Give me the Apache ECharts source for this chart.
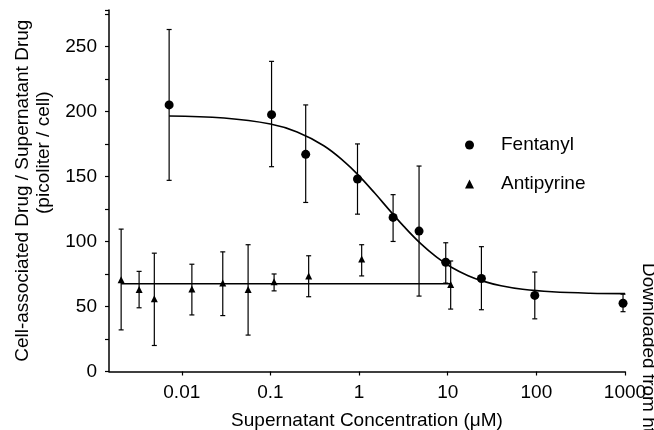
<!DOCTYPE html>
<html><head><meta charset="utf-8">
<script src="https://cdn.jsdelivr.net/npm/echarts@6/dist/echarts.min.js"></script>
<style>html,body{margin:0;padding:0;background:#fff}#c{width:654px;height:430px}</style>
</head><body><div id="c"></div>
<script>
const fentanylX = [0.0072, 0.103, 0.25, 0.96, 2.42, 4.75, 9.5, 24, 96, 950];
const fentanylY = [205, 197.5, 167, 148, 118.5, 108, 84, 71.5, 58.5, 52.5];
const fentanylLow = [147, 157.5, 130, 121, 100, 58, 68, 47.5, 40.5, 46];
const fentanylHigh = [263, 238.5, 205, 175, 136, 158, 99, 96, 76.5, 59.5];
const antipyrineX = [0.00207, 0.0033, 0.0049, 0.013, 0.029, 0.056, 0.11, 0.27, 1.07, 10.8];
const antipyrineY = [70.5, 63, 56, 63.5, 68, 63, 69, 73.5, 86.5, 67];
const antipyrineLow = [32, 49, 20, 43.5, 43, 28, 62, 57.5, 73.5, 48];
const antipyrineHigh = [109.5, 77, 91, 82.5, 92, 97.5, 75, 89, 97.5, 85];
const fentanylFitX = [0.0072, 0.03, 0.1, 0.2, 0.4, 0.7, 1, 1.5, 2.2, 3.2, 5, 7.5, 11, 17, 25, 40, 70, 150, 400, 1000];
const fentanylFitY = [196.5, 194.9, 190.3, 184.2, 173.6, 160.7, 150.4, 137.2, 124.1, 111.6, 98.1, 87.9, 80.2, 73.7, 69.5, 65.9, 63.2, 61.3, 60.2, 59.9];
const antipyrineFitX = [0.00207, 10.8];
const antipyrineFitY = [67.5, 67.5];
const xTicks = [0.01, 0.1, 1, 10, 100, 1000];
const yTicks = [0, 50, 100, 150, 200, 250];

const FONT = 'Liberation Sans, Arial, sans-serif';
const zip = (xs, ys) => xs.map((x, i) => [x, ys[i]]);
const zip3 = (xs, a, b) => xs.map((x, i) => [x, a[i], b[i]]);

function errRender(params, api) {
  const x = api.value(0), lo = api.value(1), hi = api.value(2);
  const p1 = api.coord([x, lo]);
  const p2 = api.coord([x, hi]);
  const w = 2.5;
  const st = { stroke: '#000', lineWidth: 1.2 };
  return {
    type: 'group',
    children: [
      { type: 'line', shape: { x1: p1[0], y1: p1[1], x2: p2[0], y2: p2[1] }, style: st },
      { type: 'line', shape: { x1: p1[0] - w, y1: p1[1], x2: p1[0] + w, y2: p1[1] }, style: st },
      { type: 'line', shape: { x1: p2[0] - w, y1: p2[1], x2: p2[0] + w, y2: p2[1] }, style: st }
    ]
  };
}

const chart = echarts.init(document.getElementById('c'), null, { renderer: 'canvas' });
chart.setOption({
  animation: false,
  backgroundColor: '#fff',
  textStyle: { fontFamily: FONT, color: '#000' },
  grid: { left: 109, right: 29, top: 10, bottom: 58.5, containLabel: false, outerBoundsMode: 'none' },
  xAxis: {
    type: 'log', logBase: 10, min: 0.00151, max: 1000,
    name: 'Supernatant Concentration (\u03bcM)', nameLocation: 'middle', nameGap: 40,
    nameTextStyle: { fontSize: 19, color: '#000', fontFamily: FONT },
    axisLine: { lineStyle: { color: '#000', width: 1.5 } },
    axisTick: { show: true, length: 4, lineStyle: { color: '#000', width: 1.2 } },
    axisLabel: {
      fontSize: 19, color: '#000', fontFamily: FONT, margin: 12, showMinLabel: false,
      formatter: v => { const t = xTicks.find(k => Math.abs(v - k) / k < 1e-6); return t === undefined ? '' : String(t); }
    },
    splitLine: { show: false }, minorTick: { show: false }
  },
  yAxis: {
    type: 'value', min: 0, max: 278, interval: 50,
    name: 'Cell-associated Drug / Supernatant Drug\n{b|(picoliter / cell)}',
    nameLocation: 'middle', nameGap: 49,
    nameTextStyle: { fontSize: 19, color: '#000', fontFamily: FONT, lineHeight: 21,
      rich: { b: { fontSize: 19, color: '#000', fontFamily: FONT, lineHeight: 21, padding: [0, 0, 0, 76] } } },
    axisLine: { show: true, lineStyle: { color: '#000', width: 1.5 } },
    axisTick: { show: true, length: 4, lineStyle: { color: '#000', width: 1.2 } },
    minorTick: { show: true, splitNumber: 2, length: 4, lineStyle: { color: '#000', width: 1.2 } },
    axisLabel: {
      fontSize: 19, color: '#000', fontFamily: FONT, margin: 12, showMaxLabel: false,
      formatter: v => yTicks.includes(v) ? String(v) : ''
    },
    splitLine: { show: false }
  },
  legend: {
    data: ['Fentanyl', 'Antipyrine'], orient: 'vertical', left: 460, top: 130,
    itemWidth: 9, itemHeight: 9, itemGap: 19,
    textStyle: { fontSize: 19, color: '#000', fontFamily: FONT, lineHeight: 20, padding: [0, 0, 0, 22] },
    selectedMode: false
  },
  graphic: [{
    type: 'text', x: 648, y: 263, rotation: -Math.PI / 2,
    style: { text: 'Downloaded from http://', fontSize: 19, fontFamily: FONT, fill: '#000',
      textAlign: 'left', textVerticalAlign: 'middle' }
  }],
  series: [
    { name: 'Fentanyl error', type: 'custom', renderItem: errRender, data: zip3(fentanylX, fentanylLow, fentanylHigh), encode: { x: 0, y: [1, 2] }, z: 2 },
    { name: 'Antipyrine error', type: 'custom', renderItem: errRender, data: zip3(antipyrineX, antipyrineLow, antipyrineHigh), encode: { x: 0, y: [1, 2] }, z: 2 },
    { name: 'Fentanyl fit', type: 'line', data: zip(fentanylFitX, fentanylFitY), showSymbol: false, symbol: 'none', smooth: 0.4,
      lineStyle: { color: '#000', width: 1.6 }, itemStyle: { color: '#000' }, z: 3 },
    { name: 'Antipyrine fit', type: 'line', data: zip(antipyrineFitX, antipyrineFitY), showSymbol: false, symbol: 'none',
      lineStyle: { color: '#000', width: 1.6 }, itemStyle: { color: '#000' }, z: 3 },
    { name: 'Fentanyl', type: 'scatter', symbol: 'circle', symbolSize: 9, data: zip(fentanylX, fentanylY), itemStyle: { color: '#000', opacity: 1 }, z: 4 },
    { name: 'Antipyrine', type: 'scatter', symbol: 'triangle', symbolSize: 7, data: zip(antipyrineX, antipyrineY), itemStyle: { color: '#000', opacity: 1 }, z: 4 }
  ]
});
</script>
</body></html>
